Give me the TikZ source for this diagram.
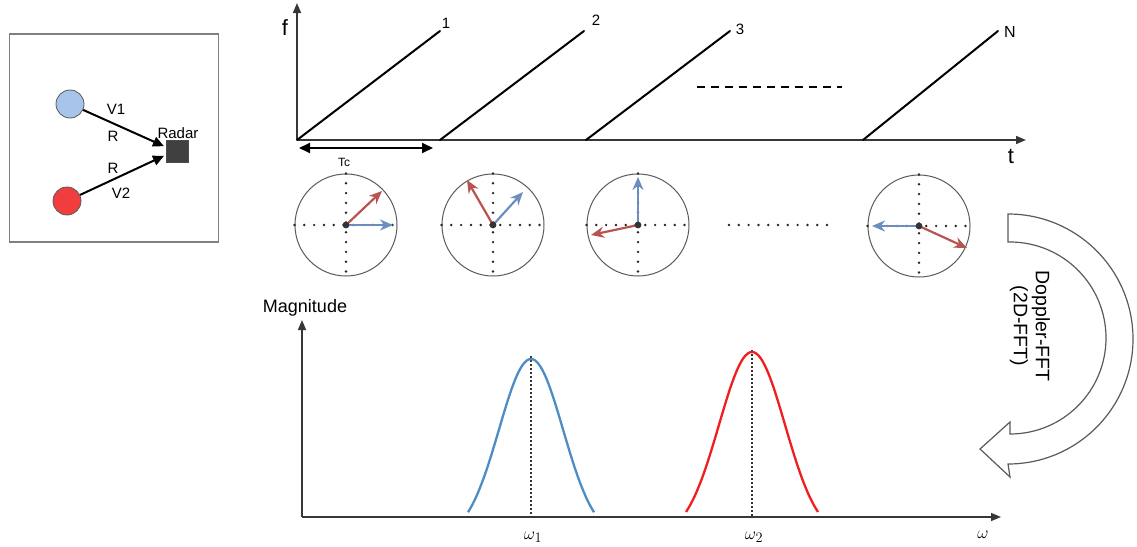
\documentclass[tikz,border=0pt]{standalone}
\usepackage{fontspec}
\setmainfont{Liberation Sans}
\usetikzlibrary{arrows.meta}
\definecolor{vred}{RGB}{184,84,80}
\definecolor{vblue}{RGB}{108,142,191}
\definecolor{cblue}{RGB}{169,196,235}
\definecolor{cred}{RGB}{240,62,62}
\definecolor{gblue}{RGB}{78,140,198}
\definecolor{gred}{RGB}{240,30,30}
\definecolor{axgray}{RGB}{55,55,55}
\definecolor{rgray}{RGB}{64,64,64}
\definecolor{cgray}{RGB}{90,90,90}
\begin{document}
\begin{tikzpicture}[x=1pt,y=-1pt,
  lbl/.style={inner sep=0pt, font=\fontsize{15}{17}\selectfont},
  axis/.style={line width=1.5pt, draw=axgray, -{Triangle[length=10pt,width=8pt]}},
  ramp/.style={line width=2pt, draw=black, line cap=round},
  link/.style={line width=2pt, draw=black, -{Triangle[length=11pt,width=10pt]}},
  phasor/.style={circle, draw=cgray, line width=1pt, minimum size=102pt, inner sep=0pt},
  dotax/.style={line width=2.7pt, draw=black!85, dash pattern=on 0pt off 9.8pt, line cap=round},
  vec/.style={line width=2.2pt, -{Stealth[length=13pt,width=11pt]}},
  peakline/.style={line width=1.4pt, draw=gray!40!black, dash pattern=on 2pt off 2pt},
  curve/.style={line width=2.3pt, smooth},
  mlbl/.style={inner sep=0pt, font=\fontsize{19}{22}\selectfont}
]
\useasboundingbox (0,0) rectangle (1137,546);

% ---------- left box ----------
\node[draw=gray, line width=1.3pt, minimum width=209pt, minimum height=208pt, inner sep=0pt] (box) at (114,138) {};
\node[circle, fill=cblue, draw=cgray, line width=0.8pt, minimum size=28pt, inner sep=0pt] (b1) at (70,104) {};
\node[circle, fill=cred, draw=cgray, line width=0.8pt, minimum size=28pt, inner sep=0pt] (r1) at (67,201) {};
\node[rectangle, fill=rgray, draw=black!70, minimum size=22pt, inner sep=0pt] (radar) at (177,151) {};
\node[lbl, anchor=south] (radarl) at (178,139) {Radar};
\draw[link, shorten >=2pt] (b1) -- ([yshift=4pt]radar.west);
\draw[link, shorten >=2pt] (r1) -- ([yshift=-4pt]radar.west);
\node[lbl] (v1) at (116,109) {V1};
\node[lbl] (rr1) at (113,136) {R};
\node[lbl] (rr2) at (113,168) {R};
\node[lbl] (v2) at (121,193) {V2};

% ---------- top chart ----------
\coordinate (O) at (297,140);
\coordinate (ftop) at (297,3);
\coordinate (tend) at (1026,140);
\draw[axis] (O) -- (ftop);
\draw[axis] (O) -- (tend);
\node[lbl, font=\fontsize{22}{24}\selectfont] (flbl) at (285,28) {f};
\node[lbl, font=\fontsize{22}{24}\selectfont] (tlbl) at (1011,156) {t};
\draw[ramp] (O) -- (440,31);
\draw[ramp] (440,140) -- (584,31);
\draw[ramp] (586,140) -- (730,31);
\draw[ramp] (863,140) -- (998,31);
\node[lbl] (n1) at (446,23) {1};
\node[lbl] (n2) at (596,20) {2};
\node[lbl] (n3) at (740,29) {3};
\node[lbl, font=\fontsize{16}{18}\selectfont] (nN) at (1010,32) {N};
\draw[line width=2pt, dash pattern=on 8pt off 6pt] (697,87) -- (842,87);
\coordinate (tcl) at (299,148);
\coordinate (tcr) at (433,148);
\draw[line width=2pt, {Triangle[length=11pt,width=10pt]}-{Triangle[length=11pt,width=10pt]}] (tcl) -- (tcr);
\node[lbl, font=\fontsize{12}{14}\selectfont] (tc) at (344,162) {Tc};

% ---------- phasor circles ----------
\foreach \n/\cx/\cy in {1/346/225, 2/493/225, 3/638/225, 4/919/226}{
  \node[phasor] (c\n) at (\cx,\cy) {};
  \draw[dotax] (c\n.west) -- (c\n.east);
  \draw[dotax] (c\n.north) -- (c\n.south);
}
\draw[vec, vred] (c1.center) -- ++(36,-34);
\draw[vec, vblue] (c1.center) -- ++(47,0);
\draw[vec, vred] (c2.center) -- ++(-26,-45);
\draw[vec, vblue] (c2.center) -- ++(30,-33);
\draw[vec, vblue] (c3.center) -- ++(0,-48);
\draw[vec, vred] (c3.center) -- ++(-47,10);
\draw[vec, vblue] (c4.center) -- ++(-47,0);
\draw[vec, vred] (c4.center) -- ++(48,22);
\foreach \n in {1,2,3,4}{\fill[black!80] (c\n.center) circle (3.4pt);}
\coordinate (dl) at (729,225);
\coordinate (dr) at (834,225);
\draw[dotax] (dl) -- (dr);

% ---------- block arrow ----------
\coordinate (bc) at (1010,338);
\draw[draw=cgray, line width=1.2pt, fill=white]
  (1008,214) arc[start angle=-90, end angle=90, radius=125]
  -- (1010,477) -- (980,449) -- (1010,422) -- (1010,434)
  arc[start angle=90, end angle=-90, radius=96] -- (1008,242) -- cycle;
\node[rotate=-90, align=center, inner sep=0pt, font=\fontsize{19.5}{22}\selectfont] (dop) at (1030,326) {Doppler-FFT\\(2D-FFT)};

% ---------- bottom chart ----------
\coordinate (O2) at (302,517);
\coordinate (mtop) at (302,320);
\coordinate (wend) at (1001,517);
\draw[axis] (O2) -- (mtop);
\draw[axis] (O2) -- (wend);
\node[lbl, font=\fontsize{18}{20}\selectfont] (mag) at (305,308) {Magnitude};
\node[mlbl] (wl) at (983,535) {$\omega$};
\node[mlbl] (w1) at (533,537) {$\omega_1$};
\node[mlbl] (w2) at (754,537) {$\omega_2$};
\coordinate (p1) at (531,356);
\coordinate (f1) at (531,517);
\coordinate (p2) at (752,350);
\coordinate (f2) at (752,517);
\draw[peakline] (p1) -- (f1);
\draw[peakline] (p2) -- (f2);
\draw[curve, gblue] plot[domain=-63:63, samples=61] ({531+\x},{538-179*exp(-\x*\x/2048)});
\draw[curve, gred] plot[domain=-66:66, samples=61] ({752+\x},{537-185*exp(-\x*\x/2178)});
\end{tikzpicture}
\end{document}
